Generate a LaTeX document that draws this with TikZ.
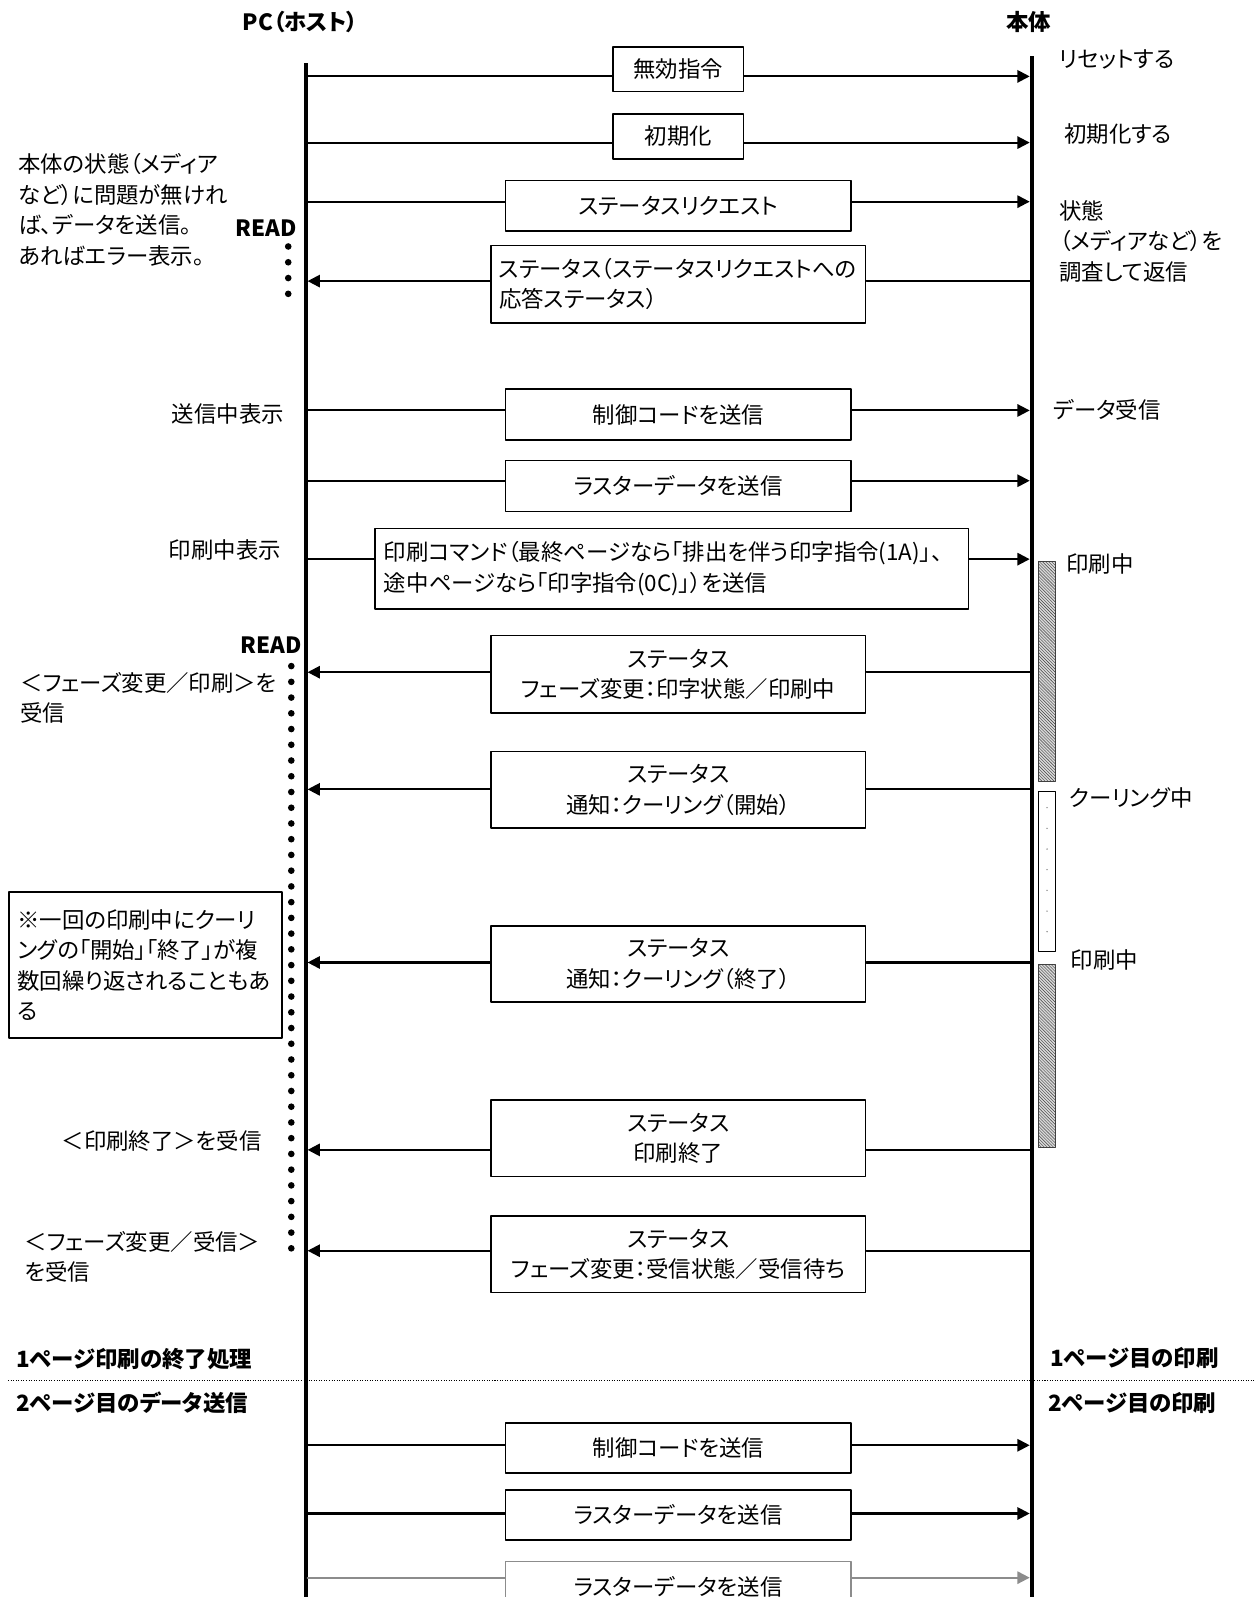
\documentclass[tikz,border=0pt]{standalone}
\usepackage{fontspec}
\setmainfont{Noto Sans CJK JP}[RawFeature=+palt]
\usepackage{tikz}
\usetikzlibrary{calc}
\usetikzlibrary{arrows.meta}
\usetikzlibrary{patterns}
\definecolor{hatchgray}{rgb}{0.25,0.25,0.25}
\definecolor{lastgray}{rgb}{0.55,0.55,0.55}
\tikzstyle{every node}=[font=\fontsize{22pt}{30pt}\selectfont,inner sep=0pt]
\tikzstyle{head}=[font=\fontsize{22pt}{30pt}\selectfont\bfseries]
\tikzstyle{msg}=[draw,line width=1.5pt,align=center]
\tikzstyle{sig}=[->,line width=2pt]
\tikzstyle{hatch}=[line width=1pt,line cap=butt,color=hatchgray,preaction={fill=gray!30},pattern=north west lines,pattern color=hatchgray]

\begin{document}
\begin{tikzpicture}[line cap=round,line join=round,>={Triangle[length=12pt,width=12pt]},x=1pt,y=-1pt]
            \clip(0,0) rectangle (1232,1568);
            \node[head] (pc) at (295,22) {PC（ホスト）};
            \node[head] (hontai) at (1010,22) {本体};
            \coordinate (pctop) at (300,62);
            \coordinate (pcend) at (300,1570);
            \coordinate (hontop) at (1013,55);
            \coordinate (honend) at (1013,1570);
            \draw [line width=4pt,line cap=butt] (pctop) -- (pcend);
            \draw [line width=4pt,line cap=butt] (hontop) -- (honend);
            \node[msg,minimum width=128,minimum height=44] (m1) at (666,68) {無効指令};
            \node[msg,minimum width=128,minimum height=44] (m2) at (666,134) {初期化};
            \node[msg,minimum width=339,minimum height=50] (m3) at (666,202) {ステータスリクエスト};
            \node[msg,minimum width=368,minimum height=76,text width=352,align=left] (m4) at (666,279) {ステータス（ステータスリクエストへの\\応答ステータス）};
            \node[msg,minimum width=339,minimum height=50] (m5) at (666,407) {制御コードを送信};
            \node[msg,minimum width=339,minimum height=50] (m6) at (666,477) {ラスターデータを送信};
            \node[msg,minimum width=583,minimum height=79,text width=565,align=left] (m7) at (659.5,558.5) {印刷コマンド（最終ページなら「排出を伴う印字指令(1A)」、\\途中ページなら「印字指令(0C)」）を送信};
            \node[msg,minimum width=368,minimum height=76] (m8) at (666,662) {ステータス\\フェーズ変更：印字状態／印刷中};
            \node[msg,minimum width=368,minimum height=75] (m9) at (666,775.5) {ステータス\\通知：クーリング（開始）};
            \node[msg,minimum width=368,minimum height=75] (m10) at (666,946.5) {ステータス\\通知：クーリング（終了）};
            \node[msg,minimum width=368,minimum height=75] (m11) at (666,1117.5) {ステータス\\印刷終了};
            \node[msg,minimum width=368,minimum height=75] (m12) at (666,1231.5) {ステータス\\フェーズ変更：受信状態／受信待ち};
            \node[msg,minimum width=339,minimum height=49] (m13) at (666,1421.5) {制御コードを送信};
            \node[msg,minimum width=339,minimum height=49] (m14) at (666,1487.5) {ラスターデータを送信};
            \node[msg,draw=lastgray,minimum width=339,minimum height=50] (m15) at (666,1558) {ラスターデータを送信};
            \coordinate (p1) at (302,75);    \coordinate (b1) at (1011,75);
            \coordinate (p2) at (302,140);   \coordinate (b2) at (1011,140);
            \coordinate (p3) at (302,198);   \coordinate (b3) at (1011,198);
            \coordinate (p4) at (302,276);   \coordinate (b4) at (1013,276);
            \coordinate (p5) at (302,403);   \coordinate (b5) at (1011,403);
            \coordinate (p6) at (302,472);   \coordinate (b6) at (1011,472);
            \coordinate (p7) at (302,549);   \coordinate (b7) at (1011,549);
            \coordinate (p8) at (302,660);   \coordinate (b8) at (1013,660);
            \coordinate (p9) at (302,775);   \coordinate (b9) at (1013,775);
            \coordinate (p10) at (302,945);  \coordinate (b10) at (1013,945);
            \coordinate (p11) at (302,1129); \coordinate (b11) at (1013,1129);
            \coordinate (p12) at (302,1228); \coordinate (b12) at (1013,1228);
            \coordinate (p13) at (302,1419); \coordinate (b13) at (1011,1419);
            \coordinate (p14) at (302,1486); \coordinate (b14) at (1011,1486);
            \coordinate (p15) at (302,1549); \coordinate (b15) at (1011,1549);
            \draw [sig] (p1) -- (p1 -| m1.west) (p1 -| m1.east) -- (b1);
            \draw [sig] (p2) -- (p2 -| m2.west) (p2 -| m2.east) -- (b2);
            \draw [sig] (p3) -- (p3 -| m3.west) (p3 -| m3.east) -- (b3);
            \draw [sig] (b4) -- (b4 -| m4.east) (b4 -| m4.west) -- (p4);
            \draw [sig] (p5) -- (p5 -| m5.west) (p5 -| m5.east) -- (b5);
            \draw [sig] (p6) -- (p6 -| m6.west) (p6 -| m6.east) -- (b6);
            \draw [sig] (p7) -- (p7 -| m7.west) (p7 -| m7.east) -- (b7);
            \draw [sig] (b8) -- (b8 -| m8.east) (b8 -| m8.west) -- (p8);
            \draw [sig] (b9) -- (b9 -| m9.east) (b9 -| m9.west) -- (p9);
            \draw [sig] (b10) -- (b10 -| m10.east) (b10 -| m10.west) -- (p10);
            \draw [sig] (b11) -- (b11 -| m11.east) (b11 -| m11.west) -- (p11);
            \draw [sig] (b12) -- (b12 -| m12.east) (b12 -| m12.west) -- (p12);
            \draw [sig] (p13) -- (p13 -| m13.west) (p13 -| m13.east) -- (b13);
            \draw [sig] (p14) -- (p14 -| m14.west) (p14 -| m14.east) -- (b14);
            \draw [sig,color=lastgray] (p15) -- (p15 -| m15.west) (p15 -| m15.east) -- (b15);
            \node[head] (read1) at (261,224) {READ};
            \node[head] (read2) at (266,633) {READ};
            \coordinate (dota) at (283,242);
            \coordinate (dotb) at (283,292);
            \coordinate (dotc) at (286,654);
            \coordinate (dotd) at (286,1228);
            \draw [line width=6.5pt,dash pattern=on 0pt off 15.5pt] (dota) -- (dotb);
            \draw [line width=6.5pt,dash pattern=on 0pt off 15.45pt] (dotc) -- (dotd);
            \node[anchor=west,align=left] (l4) at (18,206) {本体の状態（メディア\\など）に問題が無けれ\\ば、データを送信。\\あればエラー表示。};
            \node[anchor=east] (l5) at (279,406) {送信中表示};
            \node[anchor=east] (l7) at (276,540) {印刷中表示};
            \node[anchor=west,align=left] (l8) at (20,685) {＜フェーズ変更／印刷＞を\\受信};
            \node[draw,line width=1.5pt,minimum width=268,minimum height=143,text width=252,align=left] (memo) at (143,947.5) {※一回の印刷中にクーリ\\ングの「開始」「終了」が複\\数回繰り返されることもあ\\る};
            \node[anchor=east] (l11) at (257,1120) {＜印刷終了＞を受信};
            \node[anchor=west,align=left] (l12) at (24,1234) {＜フェーズ変更／受信＞\\を受信};
            \node[anchor=west] (r1) at (1040,58) {リセットする};
            \node[anchor=west] (r2) at (1045,132) {初期化する};
            \node[anchor=west,align=left] (r4) at (1040,237) {状態\\（メディアなど）を\\調査して返信};
            \node[anchor=west] (r5) at (1034,402) {データ受信};
            \node[anchor=west] (r7) at (1047,554) {印刷中};
            \node[anchor=west] (r9) at (1050,783) {クーリング中};
            \node[anchor=west] (r10) at (1051,943) {印刷中};
            \draw [hatch] (1020,551) rectangle (1036,767);
            \draw [line width=1pt,line cap=butt] (1020,777) rectangle (1036,934);
            \draw [line width=1.5pt,color=gray,dash pattern=on 0pt off 20.3pt] (1028,793) -- (1028,920);
            \draw [hatch] (1020,947) rectangle (1036,1127);
            \node[head,anchor=west] (end1) at (16,1334) {1ページ印刷の終了処理};
            \node[head,anchor=west] (next1) at (16,1377) {2ページ目のデータ送信};
            \node[head,anchor=west] (end2) at (1031,1333) {1ページ目の印刷};
            \node[head,anchor=west] (next2) at (1029,1377) {2ページ目の印刷};
            \coordinate (sepl) at (8,1355);
            \coordinate (sepr) at (1232,1355);
            \draw [line width=1pt,line cap=butt,dash pattern=on 1pt off 1.5pt] (sepl) -- (sepr);
\end{tikzpicture}
\end{document}
